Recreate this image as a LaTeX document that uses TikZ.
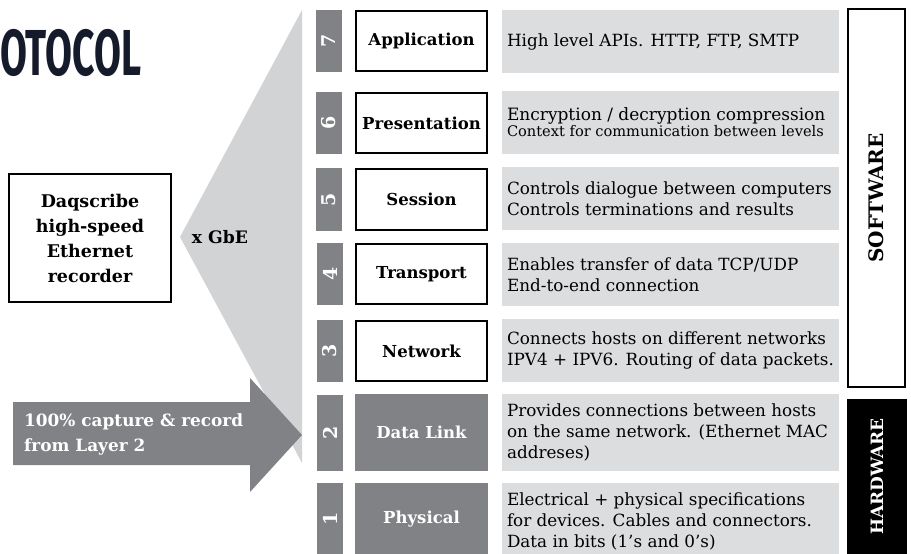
\documentclass[tikz,border=0pt]{standalone}
\usepackage{fontspec}
\usepackage{graphicx}
\setmainfont{DejaVu Serif}
\newfontfamily\titlefont{Fira Sans}
\definecolor{dgrey}{HTML}{808285}
\definecolor{tgrey}{HTML}{D1D3D4}
\definecolor{lgrey}{HTML}{DCDDDF}
\definecolor{navy}{HTML}{161B2B}
\begin{document}
\begin{tikzpicture}[x=1pt,y=-1pt,
  numbar/.style={fill=dgrey, inner sep=0, minimum height=26pt, rotate=90, text=white, font=\bfseries\fontsize{19}{19}\selectfont},
  layerbox/.style={draw=black, line width=2pt, fill=white, minimum width=131pt, inner sep=0, font=\bfseries\fontsize{16.5}{18}\selectfont},
  hwbox/.style={fill=dgrey, minimum width=133pt, inner sep=0, text=white, font=\bfseries\fontsize{16.5}{18}\selectfont},
  descbox/.style={fill=lgrey, inner sep=0, minimum width=337pt},
  desctext/.style={anchor=west, inner sep=0, align=left, font=\fontsize{16.8}{21}\selectfont},
  sidebox/.style={line width=2pt, inner sep=0, rotate=90, font=\bfseries\fontsize{20}{20}\selectfont},
  lbl/.style={inner sep=0, font=\bfseries\fontsize{17.2}{25}\selectfont, align=center}
]
\useasboundingbox (0,0) rectangle (911,554);

% title
\node[anchor=west, inner sep=0, text=navy] (title) at (0,52.5) {\scalebox{0.6}[1]{\titlefont\bfseries\fontsize{65}{65}\selectfont OTOCOL}};

% light triangle
\coordinate (apex) at (180,237);
\coordinate (ttop) at (302,10);
\coordinate (tbot) at (302,463);
\fill[tgrey] (apex) -- (ttop) -- (tbot) -- cycle;

% capture arrow
\fill[dgrey] (13,402) -- (250,402) -- (250,378) -- (302,435) -- (250,492) -- (250,465) -- (13,465) -- cycle;
\node[lbl, anchor=west, align=left, text=white, font=\bfseries\fontsize{16.9}{25}\selectfont] (cap) at (24,434.5) {100\% capture \& record\\from Layer 2};

% recorder
\node[draw=black, line width=2.5pt, minimum width=162pt, minimum height=128pt, inner sep=0, font=\bfseries\fontsize{17.5}{25}\selectfont, align=center] (rec) at (90,238) {Daqscribe\\high-speed\\Ethernet\\recorder};
\node[lbl] (gbe) at (220,237) {x GbE};

% rows
\node[numbar, minimum width=62pt] (n7) at (329,41) {7};
\node[layerbox, minimum height=60pt] (l7) at (421.5,41) {Application};
\node[descbox, minimum height=63pt] (d7) at (670.5,41.5) {};
\node[desctext] (t7) at ([xshift=5pt]d7.west) {High level APIs. HTTP, FTP, SMTP};

\node[numbar, minimum width=62pt] (n6) at (329,123) {6};
\node[layerbox, minimum height=60pt] (l6) at (421.5,123) {Presentation};
\node[descbox, minimum height=63pt] (d6) at (670.5,122.5) {};
\node[desctext, font=\fontsize{14.6}{16}\selectfont] (t6) at ([xshift=5pt]d6.west) {{\fontsize{17}{16}\selectfont Encryption / decryption compression}\\Context for communication between levels};

\node[numbar, minimum width=63pt] (n5) at (329,199.5) {5};
\node[layerbox, minimum height=61pt] (l5) at (421.5,199.5) {Session};
\node[descbox, minimum height=63pt] (d5) at (670.5,198.5) {};
\node[desctext] (t5) at ([xshift=5pt]d5.west) {Controls dialogue between computers\\Controls terminations and results};

\node[numbar, minimum width=62pt] (n4) at (330,274) {4};
\node[layerbox, minimum height=60pt] (l4) at (421.5,274) {Transport};
\node[descbox, minimum height=63pt] (d4) at (670.5,274.5) {};
\node[desctext] (t4) at ([xshift=5pt]d4.west) {Enables transfer of data TCP/UDP\\End-to-end connection};

\node[numbar, minimum width=62pt] (n3) at (330,351) {3};
\node[layerbox, minimum height=60pt] (l3) at (421.5,351) {Network};
\node[descbox, minimum height=63pt] (d3) at (670.5,350.5) {};
\node[desctext] (t3) at ([xshift=5pt]d3.west) {Connects hosts on different networks\\IPV4 + IPV6. Routing of data packets.};

\node[numbar, minimum width=76pt] (n2) at (330,433) {2};
\node[hwbox, minimum height=77pt] (l2) at (421.5,432.5) {Data Link};
\node[descbox, minimum height=77pt] (d2) at (670.5,432.5) {};
\node[desctext] (t2) at ([xshift=5pt]d2.west) {Provides connections between hosts\\on the same network. (Ethernet MAC\\addreses)};

\node[numbar, minimum width=72pt] (n1) at (330,519) {1};
\node[hwbox, minimum height=72pt] (l1) at (421.5,519) {Physical};
\node[descbox, minimum height=72pt] (d1) at (670.5,519) {};
\node[desctext] (t1) at ([xshift=5pt, yshift=-2pt]d1.west) {Electrical + physical specifications\\for devices. Cables and connectors.\\Data in bits (1’s and 0’s)};

% side boxes
\node[sidebox, draw=black, fill=white, minimum width=378pt, minimum height=57pt] (sw) at (876.5,198) {SOFTWARE};
\node[sidebox, fill=black, text=white, minimum width=155pt, minimum height=60pt, font=\bfseries\fontsize{17}{17}\selectfont] (hw) at (877,476.5) {HARDWARE};
\end{tikzpicture}
\end{document}
